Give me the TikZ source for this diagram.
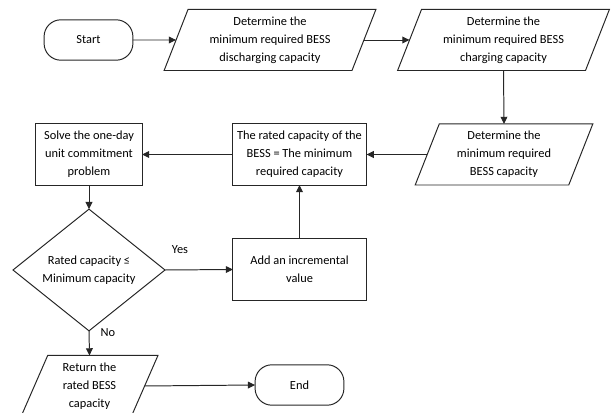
\documentclass[tikz,border=0pt]{standalone}
\usepackage{fontspec}
\setmainfont{Carlito}
\usetikzlibrary{shapes.geometric,arrows.meta}

\begin{document}
\begin{tikzpicture}[
  x=0.025cm, y=-0.025cm,
  font=\fontsize{8.8}{12.8}\selectfont,
  >={Triangle[length=1.8mm,width=1.7mm]},
  box/.style={draw=black!85, line width=0.7pt, align=center, outer sep=0pt},
  terminal/.style={box, rounded corners=0.42cm, minimum width=2.22cm, minimum height=1.01cm},
  io/.style={box, trapezium, trapezium left angle=70, trapezium right angle=110, trapezium stretches=true, minimum height=1.525cm, inner sep=1pt},
  process/.style={box, rectangle, minimum height=1.525cm},
  decision/.style={box, diamond, minimum width=3.8cm, minimum height=2.35cm, inner sep=0pt},
  flow/.style={->, draw=black!85, line width=0.7pt},
]
\useasboundingbox (0,0) rectangle (614,413);

\node[terminal] (start) at (88.5,40) {Start};
\node[io, minimum width=5.3cm] (dis) at (270,40) {Determine the\\minimum required BESS\\discharging capacity};
\node[io, minimum width=5.3cm] (cha) at (503.5,40) {Determine the\\minimum required BESS\\charging capacity};
\node[io, minimum width=4.475cm] (req) at (504,154.5) {Determine the\\minimum required\\BESS capacity};
\node[process, minimum width=3.325cm] (rated) at (299.5,154.5) {The rated capacity of the\\BESS = The minimum\\required capacity};
\node[process, minimum width=2.65cm] (solve) at (89,154.5) {Solve the one-day\\unit commitment\\problem};
\node[decision] (check) at (89,270) {Rated capacity ≤\\Minimum capacity};
\node[process, minimum width=3.325cm] (add) at (299.5,269.5) {Add an incremental\\value};
\node[io, minimum width=3.425cm] (ret) at (89.5,386) {Return the\\rated BESS\\capacity};
\node[terminal] (end) at (299.5,385) {End};

\draw[flow] (start.east) -- (dis.west);
\draw[flow] (dis.east) -- (cha.west);
\draw[flow] (cha.south) -- (req.north);
\draw[flow] (req.west) -- (rated.east);
\draw[flow] (rated.west) -- (solve.east);
\draw[flow] (solve.south) -- (check.north);
\draw[flow] (check.east) -- (add.west);
\draw[flow] (add.north) -- (rated.south);
\draw[flow] (check.south) -- (ret.north);
\draw[flow] (ret.east) -- (end.west);

\node (yes) at (180,250) {Yes};
\node (no) at (108,333) {No};
\end{tikzpicture}
\end{document}
